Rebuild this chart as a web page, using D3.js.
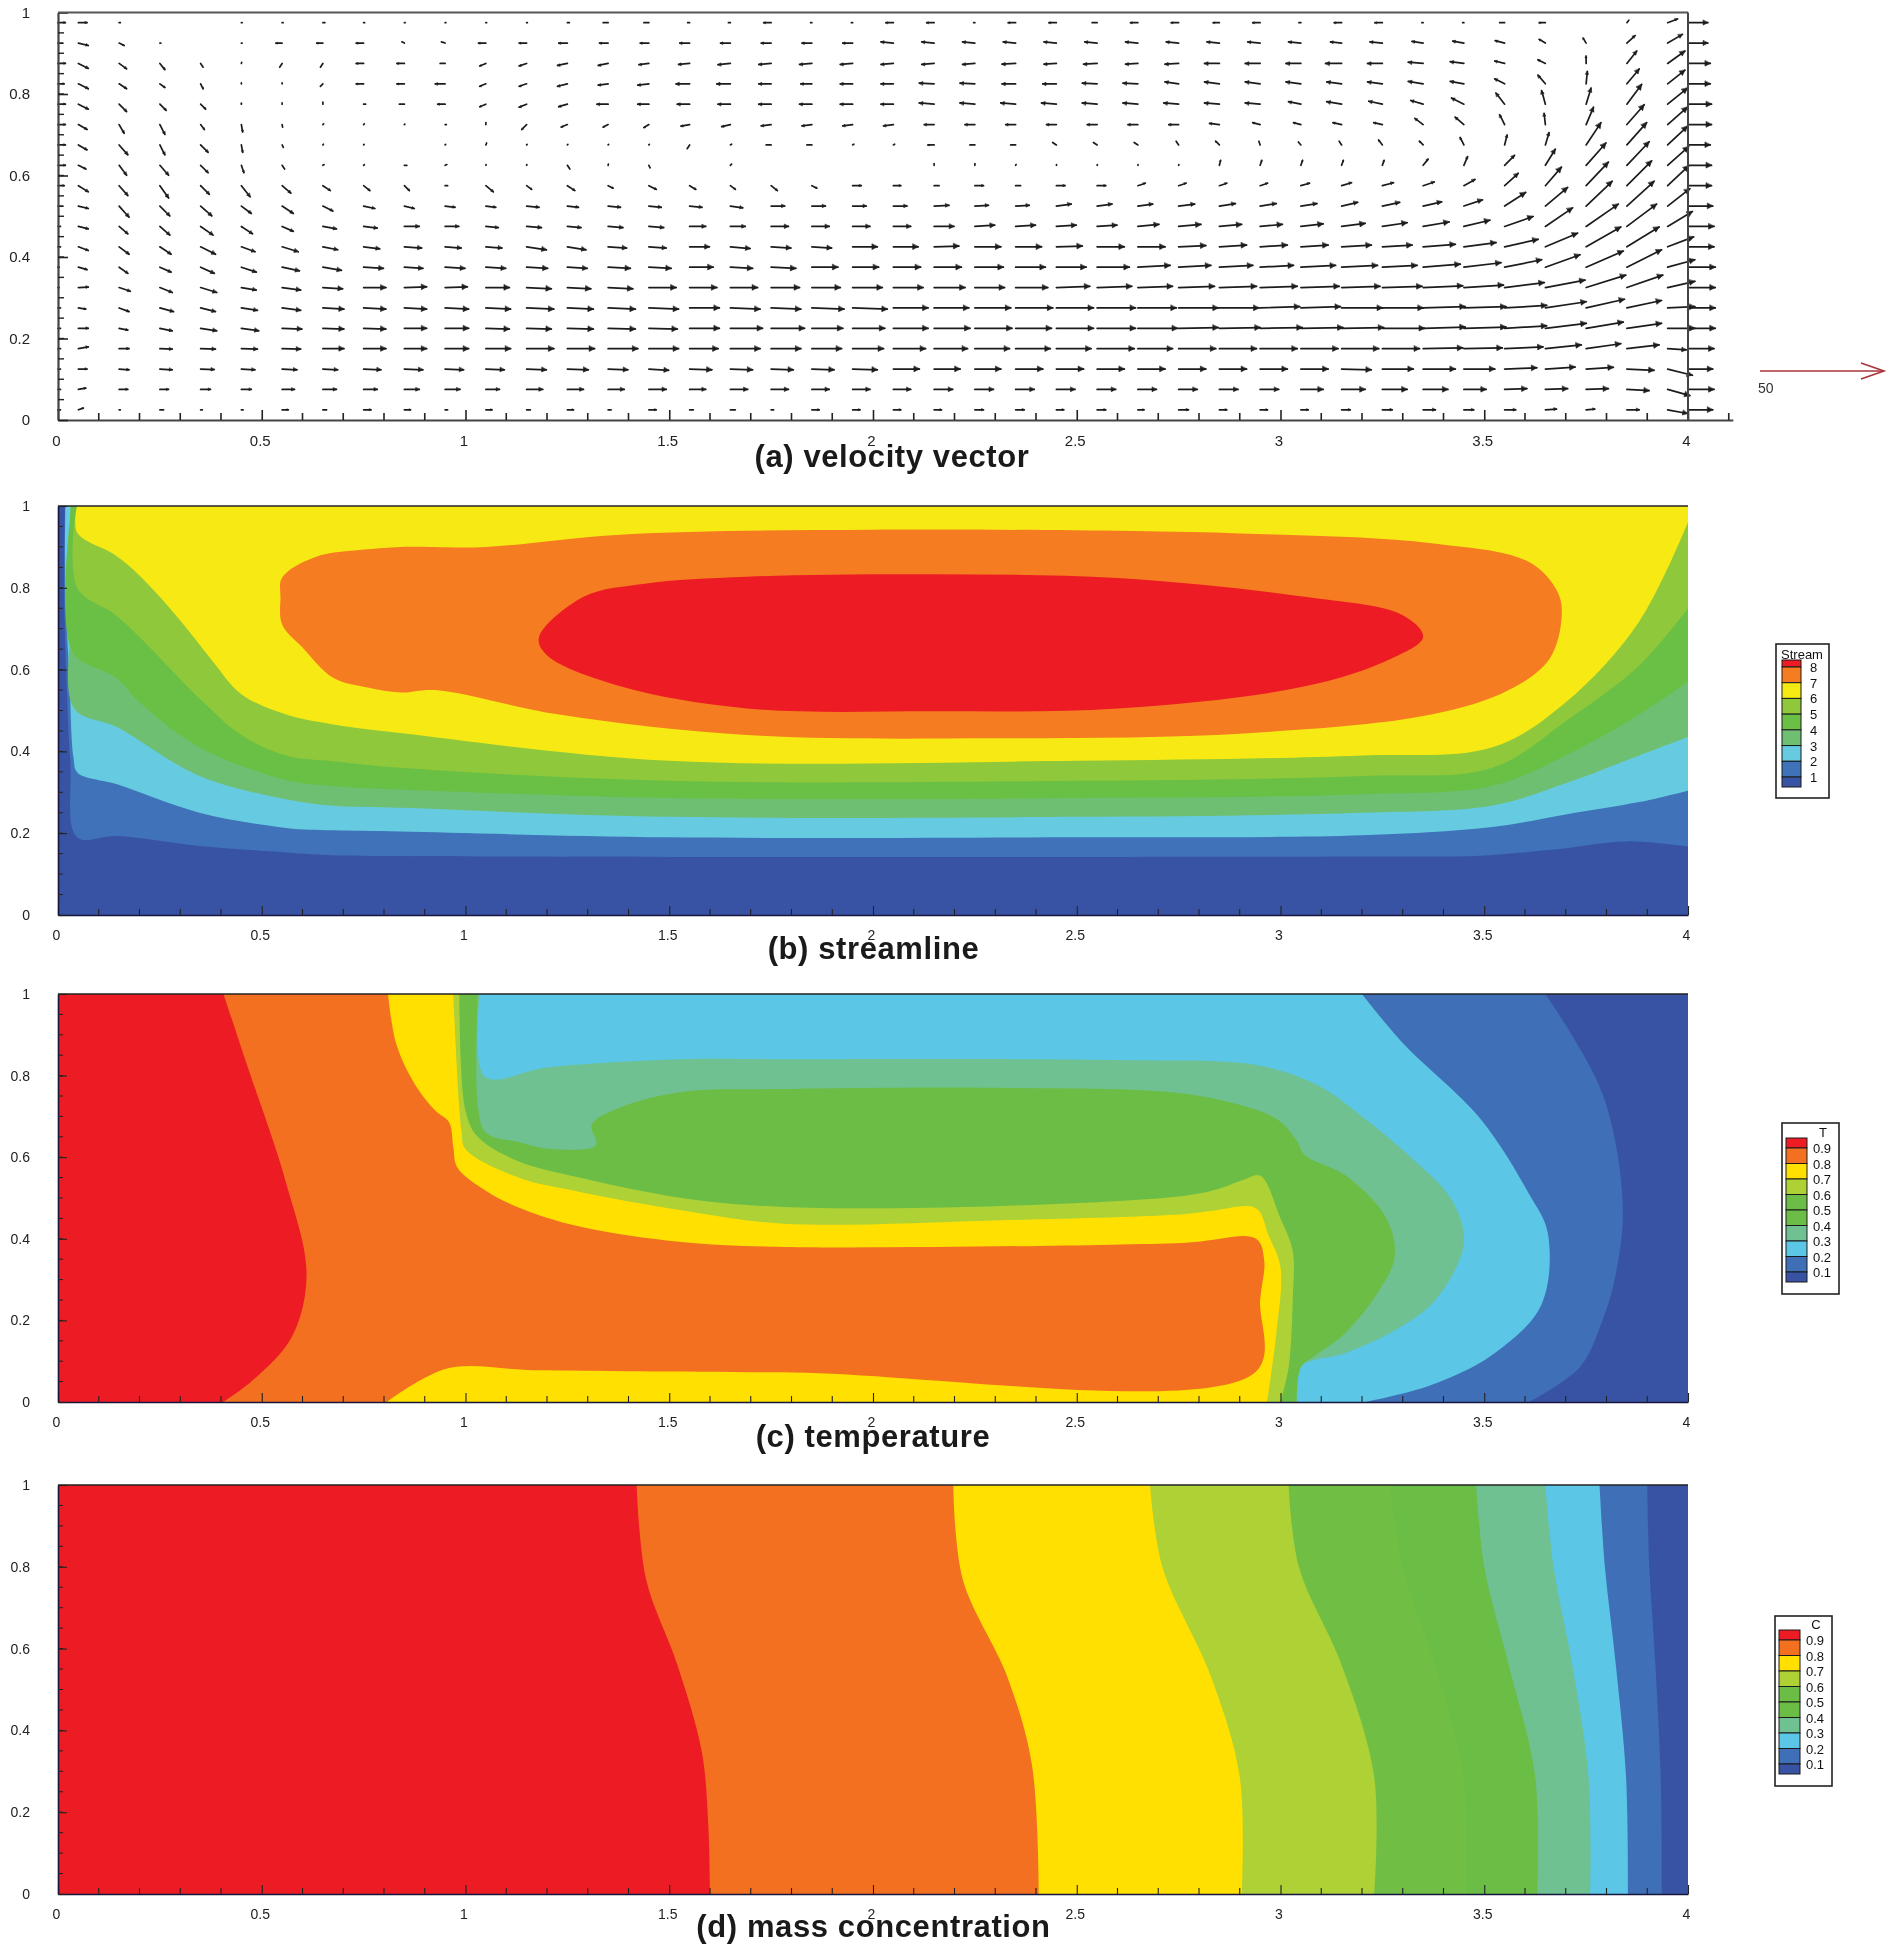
<!DOCTYPE html>
<html><head><meta charset="utf-8">
<script src="https://cdn.jsdelivr.net/npm/d3@7/dist/d3.min.js"></script>
<style>html,body{margin:0;padding:0;background:#fff}svg{display:block;filter:blur(.45px)}text{font-family:"Liberation Sans",Arial,sans-serif}</style>
</head><body><svg id="c" width="1890" height="1948"></svg>
<script>
// ---------- shared tick labels ----------
const xTickValues = [0,0.5,1,1.5,2,2.5,3,3.5,4];
const yTickValues = [0,0.2,0.4,0.6,0.8,1];
const titles = ["(a) velocity vector","(b) streamline","(c) temperature","(d) mass concentration"];

// ---------- (a) velocity vector: grid and components ----------
const gridX = [0,.05,.15,.25,.35,.45,.55,.65,.75,.85,.95,1.05,1.15,1.25,1.35,1.45,1.55,1.65,1.75,1.85,1.95,2.05,2.15,2.25,2.35,2.45,2.55,2.65,2.75,2.85,2.95,3.05,3.15,3.25,3.35,3.45,3.55,3.65,3.75,3.85,3.95,4];
const gridY = [.975,.925,.875,.825,.775,.725,.675,.625,.575,.525,.475,.425,.375,.325,.275,.225,.175,.125,.075,.025];
const refVector = 50;
const velU = [
[3,3.5,.5,0,0,.3,.4,.8,.4,.3,.3,.3,.3,.8,-2,-2,-.8, -.8,-3,-.5,-.5,-3,-3,-.5,-3,-3,-2,-3,-3,-2.5,-3,-.8,-3,-3, -.5,-.5,-2,-2.5,0,.8,4,8],
[2,4,2,.4,0,.3,-2.5,-2.5,-3,-1,-1.5,-3,-3,-3.5,-3.5,-3.5,-4, -4,-4,-4,-4,-5,-5,-5,-5,-5,-5,-5,-5,-5,-5,-5,-4.5,-5, -4.5,-4.5,-3.8,-2.5,-1.2,3.3,6,8],
[3,4,3,2,1,.1,-1,-1,-3,-3,-2,-2.5,-3,-4,-4,-4,-4.5, -5,-5,-5,-5,-5,-5,-5,-5.5,-5,-5.5,-5,-5.5,-6,-6,-6,-6.5,-6, -6,-5.5,-4,-3,0,4,7,9],
[2.5,4,3,2,1,0,0,-1,-3,-3,-4,-2.5,-3,-4,-4,-4.5,-5.5, -5.5,-5,-4.5,-5,-5,-6,-6,-5.5,-5.5,-6,-6,-5.5,-6,-6,-6,-6,-6, -6,-5.5,-4,-3,.5,5,7,9],
[3,4,3,2.5,2,0,0,0,.8,-2,-3,-2.5,-3,-3.5,-4.5,-4.5,-5, -5,-5,-5,-5,-5,-6,-6,-6,-6,-6,-6,-6,-6,-6,-5,-6,-5.5, -5,-5,-3.5,-1.5,2,6,8,9.5],
[3,3.5,2,2,1.5,.5,.2,.3,.3,.2,.5,0,-2,-2.5,-2,-2,-3.5, -3.5,-4,-4,-4,-4,-4,-4,-4,-4,-4,-4,-4,-4,-3,-3,-3.5,-3.5, -3.3,-3.5,-2,-.5,3,7,8,9.5],
[3,3.5,3.5,2,3,.5,.5,.2,.2,0,.2,.3,.2,.2,.2,.2,-1, .5,-2,-2,.5,.5,-2.5,-2,-2,-1.5,-1.5,-1.5,-1,-1.5,-.5,-1,-1,-1.5, -1.5,-1.5,1,1.5,6,8,8,9],
[3,3,3,3.5,3,1,1,.5,.3,1,.7,.1,.1,1,.1,.5,0, .5,0,0,0,0,0,0,.2,.1,.1,.1,.1,.5,.7,.7,.7,.7, 2,1.5,4,4,8,9,8.5,9.5],
[2.5,4,3.5,3.5,3.5,3.5,3.5,3,2.5,2,1,3,2,3,2,3,2.5, 2,2.5,2,3.5,3,2,3.5,2,3.5,3.5,3,3,3,3,3.5,4,4.5, 4.5,4.5,5.5,6.5,9,10,8.5,9.5],
[2,4,4,4,4.5,4,4.5,4,4.5,4,4,4,5,4.5,5,5,5, 5,5.5,5.5,5.5,5.5,6,5.5,5.5,6,6,6,6.5,6.5,6.5,6.5,6.5,7, 7.5,7.5,8.5,9,10.5,11,9,10],
[1,4,3.5,4,5,4.5,4.5,5.5,5.5,6,5.5,5,6,5.5,6,6,6.5, 6,7,7,7,7,8,8,8,8,8,8.5,9,9,9,9,9.5,10, 10.5,10.5,11.5,11,13,12,10,10.5],
[1,4,4,4.5,6,5.5,6.5,6,6.5,7,6.5,6.5,8,7.5,7.5,7,8, 8,8,8,10,10,10,10.5,10.5,10.5,11,11,11,11,11,11,12,12, 13,13,13.5,13,14,13,10.5,10.5],
[.5,3.5,3.5,4.5,5.5,6,7,7.5,8,7.5,8,8,8.5,8,9,9,9.5, 9,10,10.5,10.5,11,11,11.5,12,12,13,13,13,13.5,13.5,14,14.5,14, 15,15,15,14,15,14,11,11],
[.5,4,4.5,5,6.5,6,7.5,8,9,9,9,9.5,10,9.5,10,11,11, 11,11.5,11.5,12,12,12.5,12,13,13.5,14,14,14.5,15,15,15.5,15.5,16, 16,16,16,16,16,14.5,11,11],
[1,3,4,5.5,6,6.5,7.5,8.5,9,9,9.5,10,11,10.5,11,12,12, 12,12,13,14,14,14,14.5,15,15,15.5,15.5,16,16,16,16,16.5,16.5, 17,17,17,16.5,15.5,14,11,11],
[1,4,3.5,5,6.5,7,8,8.5,9,9,9.5,9.5,10,10.5,11,11.5,12, 13,13.5,12.5,13,14,14.5,15,14.5,15,15.5,16,16,16.5,17,17,17,17, 17,17,17,16.5,15,14,11,11],
[1,4,4,5,6,6.5,7.5,8.5,9,9,9.5,10,11,11,12,12,11.5, 12,12,12,12.5,13,13.5,14,14,14,15,14,15,15,15,15,15,15, 16,15.5,15.5,14.5,14,13,7.5,10.5],
[1,3.5,4,5,5.5,5.5,6,6,7,7.5,7.5,7.5,8,8.5,8,8,9, 9,9,9,10,10.5,10.5,10.5,11,11,11,11,11,11,11,11,12,12.5, 13,12.5,13,12,11,11,10,10],
[1,3,3.5,3.5,4,4,5,5.5,5.5,6,6,5.5,6.5,6.5,6.5,7,6.5, 7,7,7,7,7,7.5,7.5,7.5,7.5,7.5,7.5,7.5,7.5,7.5,9,9.5,10, 10,9,9,9,9,9,9,10.5],
[1,2,.5,1.5,.7,.7,2.5,1.5,3,2.5,1,2.5,1.5,2.5,1.2,3,1.5, 2,1,3,3,3,3,3.5,3.5,3,3.5,2.5,4,3,3,3,3.5,4, 5,4,4.5,4.5,3.5,5,8,10]
];
const velV = [
[0,0,0,0,0,0,0,0,0,0,0,0,0,0,0,0,0, 0,0,0,0,0,0,0,0,0,0,0,0,0,0,0,0,0, 0,0,0,0,0,1,1.5,0],
[0,-1,-1,0,0,0,0,0,0,.5,.5,0,0,0,0,0,0, 0,0,0,0,.5,.5,.5,.5,.5,.5,.5,.5,.5,.5,.5,.5,.5, .7,.8,1,1.5,2,3,3.5,0],
[0,-2,-2.2,-2.5,-1.5,.4,-1.5,-1.5,0,0,0,-1,-1,-.8,-.8,-.5,-.4, -.5,-.4,-.4,-.4,-.4,-.4,-.4,-.3,-.3,-.3,-.3,-.3,0,0,0,0,0, .5,.7,1,1.5,3,5,5,0],
[0,-2,-2,-1.5,-2,.4,.4,-1,0,0,0,-1,-1,-1,-.5,-.5,0, 0,0,0,0,0,.3,.3,0,0,.3,.3,.8,.8,.8,.8,.8,.8, 1,1,2,3.5,5,6,5.5,0],
[0,-2,-3,-2.5,-2,.4,.5,.8,0,0,0,-1,-1.2,-1,0,0,0, 0,0,0,0,0,.5,.5,.5,.5,.5,.5,.5,.5,.5,1,1,1.2, 1.5,2.5,4.5,5.5,6.5,8,6.5,0],
[0,-2,-3.5,-4,-2,-3,-1,.3,.3,.2,0,.8,-2,-1,-1,-1.2,-.6, -.8,-.5,-.5,-.5,-.5,0,0,0,0,0,0,0,.5,.8,.8,.8,.8, 2.5,3,4,4.5,7,8,7,0],
[0,-2,-4,-4,-3,-3,-1,.3,.2,0,.2,.8,.2,.2,.2,.2,-1.5, .3,0,0,.3,.3,0,0,0,1,1,1,1.5,1.5,1.5,1.2,1.5,2, 1.5,3,4,5,9,9,7.5,0],
[0,-1.5,-4,-4,-3,-3,-1.5,.3,.3,0,.3,.3,.3,-1.5,.5,-1,0, .5,0,0,0,0,.7,.7,.3,.3,.3,.3,.3,2,2,2,2,2, 2.5,3.5,4,6.5,9,9.5,7.5,0],
[0,-2.5,-4,-5,-3.5,-4.5,-3,-2,-2,-2,0,-2.5,-1.5,-2,-1,-1.5,-1.5, -1.5,-2,-1,0,0,0,0,0,0,0,1,1,1,1,1,1.2,1.2, 1.5,2.5,5,7.5,9.5,10,8,0],
[0,-1,-4.5,-4,-4,-3,-3,-2,-1,-1,-.5,-.5,-.5,-.5,-.5,-.5,-.5, -.7,0,0,0,0,.3,.3,.3,.8,.8,.8,.8,1,1,1,1.5,1.5, 1.7,2.5,5.5,7.5,10,10,7,0],
[0,-1,-3,-3.5,-3.5,-3,-2,-1,-.7,0,0,-.5,-.5,-.5,-.5,-.5,0, 0,0,0,0,0,0,.5,.5,.5,.5,.8,.8,.8,.8,1,1.2,1.5, 1.8,2.5,4,7.5,9,9,6,0],
[0,-1.5,-3,-3,-3,-2,-2,-1.2,-.8,-.5,-.5,-.5,-1.2,-1.2,-.5,-.5,0, -.7,-.5,-.5,0,0,.3,0,0,.3,0,0,.5,.7,.7,.7,.7,.7, 1,1.7,3,5.5,8,8,4,0],
[0,-1,-2.5,-2,-2.5,-2,-1.5,-1.3,-.5,-.5,-.5,-.5,-.5,-.5,-.5,-.5,0, -.5,-.5,0,0,0,0,0,0,0,0,.7,.7,.7,.7,.7,.7,.7, 1.2,1.8,3,5,6.5,7,3,0],
[0,.2,-1.5,-2,-2,-1,-1,-.5,0,.3,.3,0,-.5,-.5,-.5,0,0, 0,0,0,0,0,0,0,0,.5,.5,.5,.5,.5,.5,.5,.5,.5, .7,1,2,3,5,5,2.5,0],
[0,-.5,-1.5,-1.5,-1.5,-1,-1,-.5,-.5,-.5,-.5,-.5,-.5,-.5,-.5,-.5,0, -.5,-.5,-.5,-.5,0,0,0,0,0,0,0,0,0,.5,.5,0,0, .5,.5,1,2.5,3.5,3,.5,0],
[0,0,-.7,-1,-1,-1,-.3,-.3,-.3,0,0,-.3,-.3,-.3,-.3,-.3,0, 0,0,0,0,0,0,0,0,0,0,0,.3,.3,.3,.3,.3,0, .5,.5,1,2,2.5,2,0,0],
[0,.7,0,-.2,-.2,-.2,-.2,0,0,0,0,0,0,0,0,0,0, 0,0,0,0,0,0,0,0,0,0,0,0,0,0,0,0,0, .3,.3,.7,1.5,2,1.5,-.5,0],
[0,0,-.3,-.3,-.2,-.3,-.3,-.3,-.3,-.3,-.3,-.3,-.3,-.3,-.3,-.5,-.3, -.3,-.3,-.3,-.3,0,0,0,0,0,0,0,0,0,0,0,-.3,0, 0,0,.5,.8,.7,-.5,-2.5,0],
[0,.5,0,0,0,0,0,0,0,0,0,0,0,0,0,0,0, 0,0,0,0,0,0,0,0,0,0,0,0,0,0,0,0,0, 0,0,.3,.3,.3,-.5,-2.5,0],
[0,.7,0,0,0,0,0,0,0,0,0,0,0,0,0,0,0, 0,0,0,0,0,0,0,0,0,0,0,0,0,0,0,0,0, 0,0,0,.3,.3,0,-1.5,0]
];

// ---------- colours (coldest to hottest) ----------
const bandColors = ["#3953a4","#3f6fb6","#5bc6e5","#6fc191","#6cbd45","#6cbd45","#aed136","#ffe000","#f37021","#ed1c24"];
const streamColors = ["#3953a4","#3f72b8","#66cbe0","#6fbf72","#6abf45","#90c83c","#f7ea14","#f57c20","#ed1c24"];

// ---------- (b) streamline contour lines ----------
const stream1 = [[.017,1],[.015,.79],[.03,.38],[.047,.19],[.143,.193],[.347,.169],[.56,.153],[.675,.146],[.84,.144],[1.5,.142],[2.5,.142],[3.2,.143],[3.49,.145],[3.67,.16],[3.85,.18],[4,.167]];
const stream2 = [[.018,1],[.018,.79],[.028,.58],[.038,.385],[.048,.348],[.143,.32],[.347,.25],[.56,.213],[.675,.207],[.84,.204],[1.5,.19],[2.5,.19],[3.2,.195],[3.52,.215],[3.7,.246],[3.88,.276],[4,.304]];
const stream3 = [[.03,1],[.03,.72],[.04,.505],[.143,.46],[.347,.34],[.56,.283],[.675,.267],[.84,.262],[1.5,.24],[2.5,.24],[3.2,.25],[3.52,.268],[3.7,.322],[3.88,.39],[4,.435]];
const stream4 = [[.033,1],[.035,.645],[.143,.58],[.2,.52],[.347,.41],[.56,.33],[.675,.315],[.84,.307],[1.5,.286],[2.5,.286],[3.2,.295],[3.52,.316],[3.7,.39],[3.88,.49],[4,.57]];
const stream5 = [[.045,1],[.047,.8],[.14,.735],[.2,.68],[.347,.53],[.45,.44],[.56,.39],[.675,.376],[.84,.36],[1.5,.328],[2.5,.328],[3.2,.34],[3.52,.36],[3.7,.474],[3.88,.61],[4,.75]];
const stream6 = [[.047,1],[.047,.935],[.14,.88],[.2,.83],[.3,.72],[.38,.62],[.45,.54],[.56,.49],[.675,.466],[.84,.445],[1.5,.377],[2.5,.377],[3.2,.39],[3.52,.41],[3.7,.52],[3.88,.717],[4,.96]];
const stream7 = [[.546,.776],[.55,.825],[.63,.875],[.76,.894],[.84,.9],[1.05,.9],[1.38,.93],[2,.942],[2.9,.933],[3.37,.909],[3.61,.863],[3.68,.79],[3.69,.73],[3.66,.626],[3.56,.55],[3.37,.49],[2.91,.444],[2.3,.432],[1.69,.44],[1.23,.49],[.925,.55],[.84,.544],[.76,.556],[.675,.58],[.6,.654],[.55,.71]];
const stream8 = [[1.18,.678],[1.29,.778],[1.44,.81],[1.69,.827],[2.15,.833],[2.6,.824],[3.06,.778],[3.3,.733],[3.35,.68],[3.27,.626],[3.06,.559],[2.6,.505],[2.15,.498],[1.69,.505],[1.38,.559],[1.2,.635]];

// ---------- (c) temperature contour lines ----------
const temp1 = [[3.61,0],[3.735,.086],[3.79,.2],[3.82,.3],[3.84,.48],[3.79,.756],[3.65,1]];
const temp2 = [[3.207,0],[3.365,.04],[3.52,.116],[3.64,.238],[3.656,.414],[3.61,.51],[3.49,.695],[3.3,.88],[3.2,1]];
const temp3 = [[3.04,0],[3.05,.086],[3.16,.12],[3.28,.175],[3.38,.25],[3.45,.39],[3.42,.495],[3.32,.6],[3.2,.7],[3.09,.777],[2.94,.826],[2.6,.838],[1.78,.84],[1.53,.84],[1.2,.82],[1.048,.797],[1.035,1]];
const temp4 = [[3.04,0],[3.05,.086],[3.08,.11],[3.16,.17],[3.24,.27],[3.28,.355],[3.26,.45],[3.16,.555],[3.06,.605],[3.04,.64],[3,.687],[2.94,.716],[2.76,.756],[2.3,.77],[1.78,.767],[1.53,.76],[1.375,.72],[1.31,.68],[1.32,.63],[1.21,.62],[1.13,.637],[1.05,.66],[1.03,.73],[1.03,1]];
const temp6 = [[3,0],[3.02,.086],[3.03,.25],[3.03,.37],[3,.45],[2.95,.555],[2.91,.545],[2.84,.52],[2.76,.505],[2.3,.48],[1.78,.478],[1.53,.5],[1.28,.55],[1.13,.59],[1.03,.65],[1,.714],[.985,1]];
const temp7 = [[2.967,0],[2.99,.17],[3,.33],[2.97,.41],[2.94,.475],[2.83,.468],[2.76,.46],[2.3,.445],[1.78,.437],[1.53,.47],[1.28,.515],[1.13,.55],[1,.62],[.99,.665],[.97,1]];
const temp8 = [[.807,0],[.955,.082],[1.17,.078],[1.78,.073],[2.94,.075],[2.95,.25],[2.96,.347],[2.94,.4],[2.76,.39],[1.78,.38],[1.53,.392],[1.28,.43],[1.13,.477],[1.05,.518],[.98,.575],[.97,.625],[.96,.685],[.925,.715],[.875,.78],[.83,.878],[.81,1]];
const temp9 = [[.406,0],[.48,.055],[.574,.16],[.61,.314],[.558,.543],[.467,.817],[.406,1]];

// ---------- (d) mass concentration contour lines ----------
const conc1 = [[3.936,0],[3.933,.286],[3.92,.56],[3.905,.8],[3.9,1]];
const conc2 = [[3.853,0],[3.848,.286],[3.823,.56],[3.796,.8],[3.783,1]];
const conc3 = [[3.76,0],[3.756,.286],[3.716,.56],[3.67,.8],[3.65,1]];
const conc4 = [[3.63,0],[3.625,.286],[3.56,.56],[3.5,.8],[3.48,1]];
const conc5 = [[3.457,0],[3.45,.286],[3.38,.56],[3.3,.8],[3.27,1]];
const conc6 = [[3.23,0],[3.23,.286],[3.15,.56],[3.045,.8],[3.02,1]];
const conc7 = [[2.905,0],[2.9,.286],[2.83,.53],[2.71,.8],[2.68,1]];
const conc8 = [[2.407,0],[2.39,.316],[2.33,.53],[2.22,.77],[2.197,1]];
const conc9 = [[1.6,0],[1.596,.164],[1.58,.347],[1.52,.56],[1.443,.77],[1.42,1]];

// ---------- legends ----------
const streamLegendLevels = [8,7,6,5,4,3,2,1];
const tempLegendLevels = [.9,.8,.7,.6,.5,.4,.3,.2,.1];

// ---------- layout ----------
const svg = d3.select("#c");
const X0=58, X1=1688;
const panels = [{top:12.5,bottom:420},{top:506,bottom:915},{top:994,bottom:1402},{top:1485,bottom:1894}];
const x = d3.scaleLinear().domain([0,4]).range([X0,X1]);
const xLong = d3.scaleLinear().domain([0,4.11]).range([X0,x(4.11)]);
const yScales = panels.map(p=>d3.scaleLinear().domain([0,1]).range([p.bottom,p.top]));
const vel = d3.scaleLinear().domain([0,refVector]).range([0,124]);
const defs = svg.append("defs");

const smooth = d3.line().curve(d3.curveCatmullRom.alpha(.5));
const smoothClosed = d3.line().curve(d3.curveCatmullRomClosed.alpha(.5));
function band(g,y,pts,close,color){
  const px = pts.map(p=>[x(p[0]),y(p[1])]);
  const tail = close.map(p=>`L${x(p[0])},${y(p[1])}`).join("");
  g.append("path").attr("d",smooth(px)+tail+"Z").attr("fill",color);
}
function loop(g,y,pts,color){
  g.append("path").attr("d",smoothClosed(pts.map(p=>[x(p[0]),y(p[1])]))).attr("fill",color);
}
function panelGroup(i){
  const p=panels[i];
  defs.append("clipPath").attr("id","clip"+i).append("rect").attr("x",X0).attr("y",p.top).attr("width",X1-X0).attr("height",p.bottom-p.top);
  return svg.append("g").attr("clip-path",`url(#clip${i})`);
}
function base(g,i,color){
  const p=panels[i];
  g.append("rect").attr("x",X0).attr("y",p.top).attr("width",X1-X0).attr("height",p.bottom-p.top).attr("fill",color);
}

// (b)
{
  const g=panelGroup(1), y=yScales[1], closeTR=[[4,1]];
  base(g,1,streamColors[0]);
  [stream1,stream2,stream3,stream4,stream5,stream6].forEach((c,k)=>band(g,y,c,closeTR,streamColors[k+1]));
  loop(g,y,stream7,streamColors[7]);
  loop(g,y,stream8,streamColors[8]);
}
// (c)
{
  const g=panelGroup(2), y=yScales[2], closeL=[[0,1],[0,0]];
  base(g,2,bandColors[0]);
  band(g,y,temp1,closeL,bandColors[1]);
  band(g,y,temp2,closeL,bandColors[2]);
  band(g,y,temp3,closeL,bandColors[3]);
  band(g,y,temp4,closeL,bandColors[4]);
  band(g,y,temp6,closeL,bandColors[6]);
  band(g,y,temp7,closeL,bandColors[7]);
  band(g,y,temp8,closeL,bandColors[8]);
  band(g,y,temp9,closeL,bandColors[9]);
}
// (d)
{
  const g=panelGroup(3), y=yScales[3], closeL=[[0,1],[0,0]];
  base(g,3,bandColors[0]);
  [conc1,conc2,conc3,conc4,conc5,conc6,conc7,conc8,conc9].forEach((c,k)=>band(g,y,c,closeL,["#3f6fb6","#5bc6e5","#6fc191","#6abd45","#70bf44","#aed136","#ffe000","#f37021","#ed1c24"][k]));
}

// (a) vectors
{
  const y=yScales[0];
  const g=svg.append("g").attr("fill","#1c1c1c").attr("stroke","#1c1c1c").attr("stroke-width",1.7).attr("stroke-linecap","round");
  gridY.forEach((gy,j)=>gridX.forEach((gx,i)=>{
    const u=velU[j][i], v=velV[j][i];
    if(!u&&!v) return;
    const dx=vel(Math.abs(u))*Math.sign(u), dy=-vel(Math.abs(v))*Math.sign(v);
    const x0=x(gx), y0=y(gy), x1=x0+dx, y1=y0+dy, l=Math.hypot(dx,dy);
    g.append("line").attr("x1",x0).attr("y1",y0).attr("x2",x1).attr("y2",y1);
    if(l>5){
      const h=Math.min(5.5,l*.24), w=h*.5, ux=dx/l, uy=dy/l;
      const bx=x1-ux*h, by=y1-uy*h;
      g.append("path").attr("stroke-width",.6)
       .attr("d",`M${x1},${y1}L${bx-uy*w},${by+ux*w}L${bx+uy*w},${by-ux*w}Z`);
    }
  }));
  // reference vector
  const ry=371, rx0=1760, rx1=rx0+vel(refVector);
  const r=svg.append("g").attr("stroke","#a8343a").attr("fill","none").attr("stroke-width",1.6);
  r.append("line").attr("x1",rx0).attr("y1",ry).attr("x2",rx1).attr("y2",ry);
  r.append("path").attr("d",`M${rx1-23},${ry-8}L${rx1},${ry}L${rx1-23},${ry+8}`);
  svg.append("text").attr("x",1758).attr("y",393).attr("font-size",14).attr("fill","#333").text(refVector);
}

// axes
panels.forEach((p,i)=>{
  const y=yScales[i], first=i===0;
  const sx = first?xLong:x;
  const col="#222";
  const fs= first?15:14;
  const gx=svg.append("g").attr("transform",`translate(0,${p.bottom})`)
    .call(d3.axisBottom(sx).tickValues(xTickValues).tickFormat(d=>d).tickSizeInner(first?-10:-9).tickSizeOuter(0).tickPadding(first?15:15));
  gx.selectAll("text").attr("font-size",fs).attr("fill",col).attr("dx",-2);
  const minorX=d3.range(1,first?42:40).map(d=>d/10).filter(d=>d%0.5>1e-6&&0.5-d%0.5>1e-6);
  gx.selectAll(".mx").data(minorX).join("line").attr("class","mx").attr("x1",sx).attr("x2",sx).attr("y1",0).attr("y2",first?-7:-6).attr("stroke",col).attr("stroke-width",first?1.6:1.1);
  const gy=svg.append("g").attr("transform",`translate(${X0},0)`)
    .call(d3.axisLeft(y).tickValues(yTickValues).tickFormat(d=>d).tickSizeInner(first?-10:-9).tickSizeOuter(0).tickPadding(28));
  gy.selectAll("text").attr("font-size",fs).attr("fill",col).attr("text-anchor","end");
  const minorY=d3.range(1,20).map(d=>d/20);
  gy.selectAll(".my").data(minorY).join("line").attr("class","my").attr("x1",0).attr("x2",first?6:5).attr("y1",y).attr("y2",y).attr("stroke",col).attr("stroke-width",first?1.4:1);
  [gx,gy].forEach(a=>{a.selectAll(".domain").attr("stroke",first?"#444":"#16163c").attr("stroke-width",first?2.2:1.6);a.selectAll(".tick line").attr("stroke",col).attr("stroke-width",first?1.6:1.1);});
  // top and (panel a) right edge
  svg.append("line").attr("x1",X0).attr("x2",X1).attr("y1",p.top).attr("y2",p.top).attr("stroke",first?"#555":"#222").attr("stroke-width",first?2.2:1.4);
  if(first) svg.append("line").attr("x1",x(4)).attr("x2",x(4)).attr("y1",p.top).attr("y2",p.bottom).attr("stroke","#444").attr("stroke-width",2);
});

// titles
[[892,467],[873.5,959],[873,1447],[873.5,1937]].forEach((t,i)=>{
  svg.append("text").attr("x",t[0]).attr("y",t[1]).attr("text-anchor","middle").attr("font-size",31).attr("font-weight","bold").attr("letter-spacing",.6).attr("fill","#1a1a1a").text(titles[i]);
});

// legends
function legend(o){
  svg.append("rect").attr("x",o.x).attr("y",o.y).attr("width",o.w).attr("height",o.h).attr("fill","#fff").attr("stroke","#222").attr("stroke-width",1.6);
  const n=o.levels.length;
  const ly=d3.scaleLinear().domain([o.levels[0],o.levels[n-1]]).range([o.yFirst,o.yLast]);
  const edges=[o.yTop,...o.levels.map(ly),o.yBot];
  o.colors.forEach((c,k)=>{
    svg.append("rect").attr("x",o.sx).attr("y",edges[k]).attr("width",o.sw).attr("height",edges[k+1]-edges[k]).attr("fill",c).attr("stroke","#1a1a1a").attr("stroke-width",1);
  });
  o.levels.forEach(l=>svg.append("text").attr("x",o.lx).attr("y",ly(l)+5).attr("font-size",13).attr("fill","#111").text(l));
  svg.append("text").attr("x",o.tx).attr("y",o.ty).attr("text-anchor","middle").attr("font-size",13).attr("fill","#111").text(o.title);
}
const legendColors9=[...bandColors].reverse();
legend({x:1776,y:644,w:53,h:154,sx:1782,sw:19,yTop:660,yBot:787,yFirst:667,yLast:777,lx:1810,levels:streamLegendLevels,colors:[...streamColors].reverse(),title:"Stream",tx:1802,ty:659});
legend({x:1782,y:1123,w:57,h:171,sx:1786,sw:21,yTop:1138,yBot:1282,yFirst:1148,yLast:1272,lx:1813,levels:tempLegendLevels,colors:legendColors9,title:"T",tx:1823,ty:1137});
legend({x:1775,y:1616,w:57,h:170,sx:1779,sw:21,yTop:1630,yBot:1774,yFirst:1640,yLast:1764,lx:1806,levels:tempLegendLevels,colors:legendColors9,title:"C",tx:1816,ty:1629});
</script></body></html>
